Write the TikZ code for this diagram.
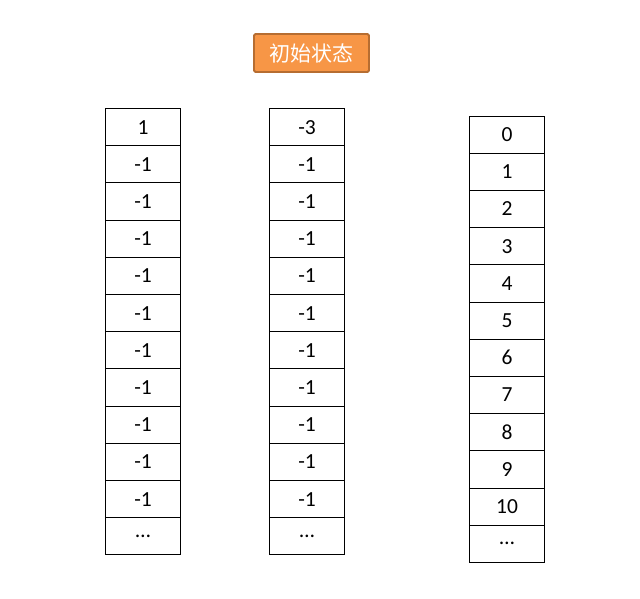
\documentclass[tikz,border=0pt]{standalone}
\usepackage{fontspec}
\setmainfont{Carlito}
\newfontfamily\cjk{Noto Sans CJK SC}
\definecolor{boxorange}{HTML}{F79646}
\definecolor{boxedge}{HTML}{B66D31}
\begin{document}
\begin{tikzpicture}[x=1pt,y=-1pt,
  cell/.style={draw=black,line width=1pt,minimum width=75pt,minimum height=37.2pt,inner sep=0pt,anchor=north west,font=\fontsize{21.5}{24}\selectfont},
  title/.style={draw=boxedge,line width=1.8pt,fill=boxorange,rounded corners=1.5pt,minimum width=115pt,minimum height=38pt,inner sep=0pt,text=white,font=\cjk\fontsize{21}{24}\selectfont}]
\useasboundingbox (0,0) rectangle (640,598);
\node[title] (t) at (311.5,53) {初始状态};
% column A
\foreach \v [count=\i from 0] in {1,-1,-1,-1,-1,-1,-1,-1,-1,-1,-1,\dots}{
  \node[cell] (a\i) at (105,{108+37.2*\i}) {\v};
}
% column B
\foreach \v [count=\i from 0] in {-3,-1,-1,-1,-1,-1,-1,-1,-1,-1,-1,\dots}{
  \node[cell] (b\i) at (269,{108+37.2*\i}) {\v};
}
% column C
\foreach \v [count=\i from 0] in {0,1,2,3,4,5,6,7,8,9,10,\dots}{
  \node[cell] (c\i) at (469,{115.5+37.2*\i}) {\v};
}
\end{tikzpicture}
\end{document}
